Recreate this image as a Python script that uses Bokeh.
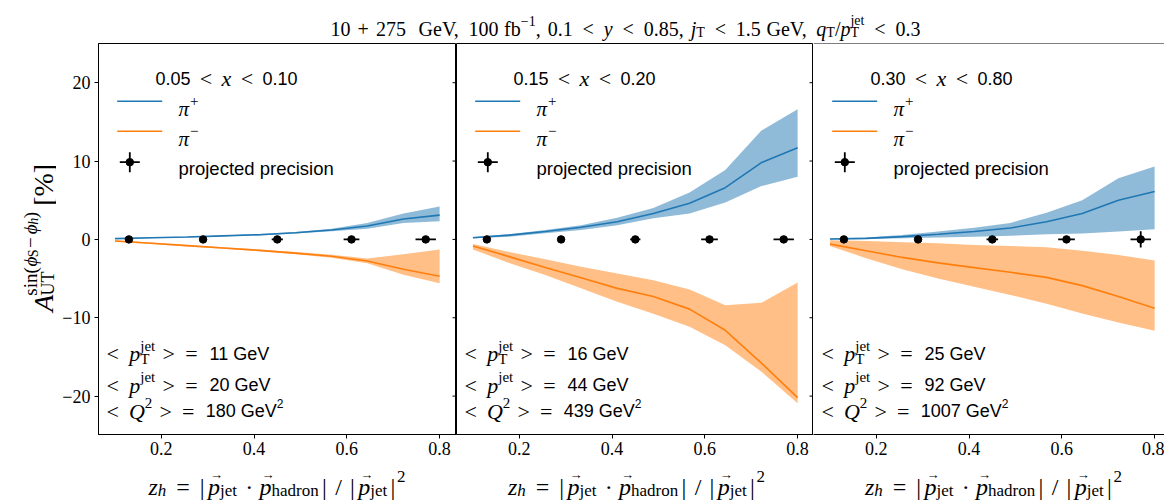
import math
from bokeh.plotting import figure
from bokeh.models import ColumnDataSource, Range1d, FixedTicker, Span
from bokeh.layouts import row, column
from bokeh.embed import file_html
from bokeh.resources import INLINE

# ---------------------------------------------------------------- data
z_theory = [0.1, 0.178, 0.256, 0.333, 0.411, 0.489, 0.567, 0.644, 0.722, 0.8]
z_points = [0.13, 0.29, 0.45, 0.61, 0.77]
y_points = [0.0, 0.0, 0.0, 0.0, 0.0]

bin_lo = ["0.05", "0.15", "0.30"]
bin_hi = ["0.10", "0.20", "0.80"]
mean_pt_jet = ["11", "16", "25"]
mean_p_jet = ["20", "44", "92"]
mean_q2 = ["180", "439", "1007"]

# panel 1 : 0.05 < x < 0.10
pip1_c = [0.1, 0.2, 0.3, 0.45, 0.6, 0.85, 1.2, 1.7, 2.6, 3.1]
pip1_lo = [0.05, 0.15, 0.25, 0.4, 0.5, 0.75, 1.05, 1.35, 2.1, 2.3]
pip1_hi = [0.15, 0.25, 0.35, 0.5, 0.7, 0.95, 1.35, 2.1, 3.3, 4.2]
pim1_c = [-0.2, -0.5, -0.8, -1.1, -1.4, -1.75, -2.15, -2.75, -3.8, -4.7]
pim1_hi = [-0.1, -0.4, -0.7, -1.0, -1.3, -1.6, -1.95, -2.45, -1.9, -1.3]
pim1_lo = [-0.3, -0.6, -0.9, -1.2, -1.5, -1.9, -2.35, -3.05, -4.5, -5.6]
ex1 = [0.004, 0.007, 0.012, 0.017, 0.022]
ey1 = [0.05, 0.08, 0.15, 0.25, 0.35]

# panel 2 : 0.15 < x < 0.20
pip2_c = [0.2, 0.55, 1.0, 1.55, 2.25, 3.3, 4.6, 6.6, 9.8, 11.7]
pip2_lo = [0.13, 0.35, 0.77, 1.2, 1.8, 2.7, 3.3, 4.7, 6.8, 8.0]
pip2_hi = [0.3, 0.65, 1.2, 1.8, 2.75, 4.0, 6.0, 8.85, 13.9, 16.6]
pim2_c = [-0.85, -2.2, -3.6, -4.9, -6.25, -7.3, -8.9, -11.6, -15.8, -20.2]
pim2_hi = [-0.6, -1.6, -2.55, -3.5, -4.35, -5.2, -6.4, -8.4, -8.1, -5.5]
pim2_lo = [-1.3, -3.0, -4.55, -6.25, -7.95, -9.5, -11.15, -13.5, -16.9, -20.9]
ex2 = [0.004, 0.007, 0.011, 0.018, 0.022]
ey2 = [0.05, 0.08, 0.15, 0.25, 0.4]

# panel 3 : 0.30 < x < 0.80
pip3_c = [0.05, 0.13, 0.35, 0.65, 1.0, 1.45, 2.25, 3.3, 5.0, 6.1]
pip3_lo = [0.0, 0.05, 0.13, 0.25, 0.35, 0.45, 0.65, 0.75, 1.0, 1.3]
pip3_hi = [0.1, 0.25, 0.55, 1.0, 1.5, 2.1, 3.4, 5.0, 7.8, 9.3]
pim3_c = [-0.6, -1.45, -2.3, -3.0, -3.6, -4.2, -4.85, -5.9, -7.3, -8.8]
pim3_hi = [-0.1, -0.2, -0.35, -0.5, -0.7, -0.85, -1.0, -1.45, -2.0, -2.7]
pim3_lo = [-0.85, -2.4, -3.8, -5.0, -6.05, -7.1, -8.2, -9.45, -10.6, -11.65]
ex3 = [0.004, 0.007, 0.0125, 0.018, 0.022]
ey3 = [0.1, 0.15, 0.25, 0.4, 1.05]

x_ticks = [0.2, 0.4, 0.6, 0.8]
y_ticks = [-20, -10, 0, 10, 20]

# ---------------------------------------------------------------- styles
BLUE = "#1f77b4"
ORANGE = "#ff7f0e"
SERIF = "Liberation Serif"
SANS = "Liberation Sans"

X0 = 0.0645
Y0, Y1 = -24.9, 25.0
FRAME_H = 391
SX = 463.8
SY = FRAME_H / (Y1 - Y0)

SERIF_R = {' ': 250, '!': 333, '(': 333, ')': 333, '+': 564, ',': 250, '-': 333, '.': 250,
           '/': 278, '<': 564, '=': 564, '>': 564, '[': 333, ']': 333, '|': 200, '%': 833,
           'A': 722, 'G': 722, 'Q': 722, 'S': 556, 'T': 611, 'U': 722, 'V': 722, 'a': 444,
           'b': 500, 'd': 500, 'e': 444, 'f': 333, 'h': 500, 'i': 278, 'j': 278, 'n': 500,
           'o': 500, 'p': 500, 'q': 500, 'r': 333, 's': 389, 't': 278, 'u': 500, 'x': 500,
           'y': 500, 'z': 444, '\u2212': 564, '\u00b7': 250, '\u2192': 1000, '\u03d5': 600,
           '\u03c0': 550}
for d in "0123456789":
    SERIF_R[d] = 500
SERIF_I = dict(SERIF_R)
SERIF_I.update({'A': 611, 'Q': 722, 'x': 444, 'y': 444, 'z': 389})
SANS_R = {' ': 278, '.': 278, 'G': 778, 'V': 667, 'e': 556, 'p': 556, 'r': 333, 'o': 556,
          'j': 222, 'c': 500, 't': 278, 'd': 556, 'i': 222, 's': 500, 'n': 556}
for d in "0123456789":
    SANS_R[d] = 556


def F(t, size, font=SERIF, style="normal", dy=0.0, adv=None, dx=0.0):
    return dict(t=t, s=size, f=font, st=style, dy=dy, adv=adv, dx=dx, gap=False)


def G(px):
    return dict(t="", s=1, f=SERIF, st="normal", dy=0.0, adv=px, dx=0.0, gap=True)


def fwidth(fr):
    if fr["f"] == SANS:
        tab = SANS_R
    elif fr["st"] == "italic":
        tab = SERIF_I
    else:
        tab = SERIF_R
    return sum(tab.get(c, 500) for c in fr["t"]) / 1000.0 * fr["s"]


def adv_of(fr):
    return fwidth(fr) if fr["adv"] is None else fr["adv"]


def gap_factor(frags, target):
    total = sum(adv_of(fr) for fr in frags)
    gaps = sum(fr["adv"] for fr in frags if fr["gap"])
    return max(0.3, 1.0 + (target - total) / gaps)


def place(frags, g=1.0):
    out, pos = [], 0.0
    for fr in frags:
        if fr["gap"]:
            pos += fr["adv"] * g
            continue
        out.append((pos + fr["dx"], fr))
        pos += adv_of(fr)
    return out, pos


def emit(p, items, align="left"):
    src = ColumnDataSource(dict(
        x=[i[0] for i in items], y=[i[1] for i in items], text=[i[2] for i in items],
        font=[i[3] for i in items], style=[i[4] for i in items], size=[i[5] for i in items],
        angle=[i[6] for i in items]))
    p.text(x="x", y="y", text="text", text_font="font", text_font_style="style",
           text_font_size="size", angle="angle", text_align=align,
           text_baseline="alphabetic", text_color="black", source=src)


def panel_text(p, rx, ry, frags, g=1.0):
    placed, _ = place(frags, g)
    items = []
    for off, fr in placed:
        items.append((X0 + (rx + off) / SX, Y1 - (ry - fr["dy"]) / SY, fr["t"], fr["f"],
                      fr["st"], "%.1fpx" % fr["s"], 0.0))
    emit(p, items)


def blank_fig(w, h):
    f = figure(width=w, height=h, x_range=Range1d(0, w), y_range=Range1d(0, h),
               output_backend="svg", toolbar_location=None, min_border=0,
               x_axis_location=None, y_axis_location=None)
    f.outline_line_color = None
    f.grid.visible = False
    f.background_fill_color = "white"
    f.border_fill_color = "white"
    return f


# ---------------------------------------------------------------- title
TITLE_H = 42
title_fig = blank_fig(1164, TITLE_H)
TS, TSS = 20, 14
rel = lambda: [G(7), F("<", TS), G(7)]
tf = ([F("10", TS), G(5), F("+", TS), G(5), F("275", TS), G(9), F("GeV,", TS), G(5),
       F("100", TS), G(4), F("fb", TS), F("\u22121", TSS, dy=8), F(",", TS), G(5),
       F("0.1", TS)] + rel() + [F("y", TS, style="italic")] + rel() +
      [F("0.85,", TS), G(5), F("j", TS, style="italic"), F("T", TSS, dy=-4)] + rel() +
      [F("1.5", TS), G(4), F("GeV,", TS), G(5), F("q", TS, style="italic"),
       F("T", TSS, dy=-4), F("/", TS), F("p", TS, style="italic"),
       F("T", TSS, dy=-4, adv=0), F("jet", TSS, dy=8)] + rel() + [F("0.3", TS)])
placed, _ = place(tf, gap_factor(tf, 590.0))
emit(title_fig, [(330 + off, (TITLE_H - 28) + fr["dy"], fr["t"], fr["f"], fr["st"],
                  "%.1fpx" % fr["s"], 0.0) for off, fr in placed])

# ---------------------------------------------------------------- y label (rotated)
ROW_H = 1 + FRAME_H + 30
YLAB_W = 56
ylab_fig = blank_fig(YLAB_W, ROW_H)
yf = [F("A", 28, style="italic"), G(1), F("UT", 18, dy=-4, adv=0), F("sin(", 19, dy=13),
      F("\u03d5", 19, style="italic", dy=13), F("S", 14, dy=10), G(2.5), F("\u2212", 19, dy=13),
      G(2.5), F("\u03d5", 19, style="italic", dy=13), F("h", 14, style="italic", dy=10),
      F(")", 19, dy=13), G(10), F("[%]", 28)]
placed, L = place(yf)
start_abs = 251 + L / 2.0
start_up = ROW_H - (start_abs - TITLE_H)
# anchored at the end of every piece (text_align right), so the run reads bottom to top
emit(ylab_fig, [(43 - fr["dy"], start_up + off + fwidth(fr), fr["t"], fr["f"], fr["st"],
                 "%.1fpx" % fr["s"], math.pi / 2) for off, fr in placed], align="right")

# ---------------------------------------------------------------- panels
panel_data = [
    (pip1_c, pip1_lo, pip1_hi, pim1_c, pim1_lo, pim1_hi, ex1, ey1),
    (pip2_c, pip2_lo, pip2_hi, pim2_c, pim2_lo, pim2_hi, ex2, ey2),
    (pip3_c, pip3_lo, pip3_hi, pim3_c, pim3_lo, pim3_hi, ex3, ey3),
]
frame_widths = [358, 357, 351]
MS, SS = 22, 15


def line1(i):
    return [F("<", MS), G(7), F("p", MS, style="italic"), F("T", SS, dy=-5, adv=0),
            F("jet", SS, dy=8), G(5), F(">", MS), G(7), F("=", MS), G(8),
            F(mean_pt_jet[i] + " GeV", 18, font=SANS)]


def line2(i):
    return [F("<", MS), G(7), F("p", MS, style="italic"), F("jet", SS, dy=8), G(5),
            F(">", MS), G(7), F("=", MS), G(8), F(mean_p_jet[i] + " GeV", 18, font=SANS)]


def line3(i):
    return [F("<", MS), G(7), F("Q", MS, style="italic"), F("2", SS, dy=8), G(5),
            F(">", MS), G(7), F("=", MS), G(8), F(mean_q2[i] + " GeV", 18, font=SANS),
            F("2", 12, font=SANS, dy=8)]


def head(i):
    return [F(bin_lo[i], 18, font=SANS), G(8), F("<", MS), G(8), F("x", MS, style="italic"),
            G(8), F("<", MS), G(8), F(bin_hi[i], 18, font=SANS)]


g_head = gap_factor(head(0), 142.0)
g_l1 = gap_factor(line1(0), 164.0)
g_l2 = gap_factor(line2(0), 164.0)
g_l3 = gap_factor(line3(0), 177.0)

panels = []
for i, (pc, plo, phi, mc, mlo, mhi, ex, ey) in enumerate(panel_data):
    fw = frame_widths[i]
    xend = X0 + fw / SX
    p = figure(frame_width=fw, frame_height=FRAME_H, x_range=Range1d(X0, xend),
               y_range=Range1d(Y0, Y1), output_backend="svg", toolbar_location=None,
               min_border=0, min_border_left=(98 - YLAB_W) if i == 0 else 0,
               min_border_right=0, min_border_top=1, min_border_bottom=30,
               y_axis_location="left" if i == 0 else None)
    p.grid.visible = False
    p.background_fill_color = "white"
    p.border_fill_color = "white"
    if i < 2:
        p.outline_line_color = "black"
        p.outline_line_width = 1
    else:
        p.outline_line_color = None
        p.add_layout(Span(location=Y1, dimension="width", line_color="black", line_width=1))

    ax = p.xaxis[0]
    ax.ticker = FixedTicker(ticks=x_ticks)
    ax.major_tick_out = 4
    ax.major_tick_in = 0
    ax.minor_tick_line_color = None
    ax.axis_line_color = "black"
    ax.major_tick_line_color = "black"
    ax.major_label_text_font = SERIF
    ax.major_label_text_font_size = "18px"
    ax.major_label_text_color = "black"
    ax.major_label_standoff = 3
    if i == 0:
        ay = p.yaxis[0]
        ay.ticker = FixedTicker(ticks=y_ticks)
        ay.major_label_overrides = {-20: "\u221220", -10: "\u221210", 0: "0", 10: "10", 20: "20"}
        ay.major_tick_out = 4
        ay.major_tick_in = 0
        ay.minor_tick_line_color = None
        ay.axis_line_color = "black"
        ay.major_label_text_font = SERIF
        ay.major_label_text_font_size = "18px"
        ay.major_label_text_color = "black"
        ay.major_label_standoff = 4
    if i < 2:
        # ticks of the neighbouring panel's left axis, reaching into this one
        p.segment(x0=[xend - 4.0 / SX] * len(y_ticks), x1=[xend] * len(y_ticks),
                  y0=y_ticks, y1=y_ticks, line_color="black", line_width=1)

    # bands and curves
    p.varea(x=z_theory, y1=plo, y2=phi, fill_color=BLUE, fill_alpha=0.5)
    p.varea(x=z_theory, y1=mlo, y2=mhi, fill_color=ORANGE, fill_alpha=0.5)
    p.line(z_theory, pc, line_color=BLUE, line_width=1.6)
    p.line(z_theory, mc, line_color=ORANGE, line_width=1.6)

    # projected precision
    p.segment(x0=[z - e for z, e in zip(z_points, ex)], x1=[z + e for z, e in zip(z_points, ex)],
              y0=y_points, y1=y_points, line_color="black", line_width=1.8)
    p.segment(x0=z_points, x1=z_points, y0=[y - e for y, e in zip(y_points, ey)],
              y1=[y + e for y, e in zip(y_points, ey)], line_color="black", line_width=1.8)
    p.scatter(z_points, y_points, size=7.5, color="black")

    # legend (drawn by hand)
    lx = lambda r: X0 + r / SX
    ly = lambda r: Y1 - r / SY
    p.line([lx(18.7), lx(63.7)], [ly(57.7), ly(57.7)], line_color=BLUE, line_width=1.6)
    p.line([lx(18.7), lx(63.7)], [ly(87.7), ly(87.7)], line_color=ORANGE, line_width=1.6)
    p.segment(x0=[lx(21.3)], x1=[lx(41.3)], y0=[ly(118.7)], y1=[ly(118.7)],
              line_color="black", line_width=1.8)
    p.segment(x0=[lx(31.3)], x1=[lx(31.3)], y0=[ly(108.7)], y1=[ly(128.7)],
              line_color="black", line_width=1.8)
    p.scatter([lx(31.3)], [ly(118.7)], size=7.5, color="black")
    panel_text(p, 80, 65.3, [F("\u03c0", 21, style="italic"), F("+", 15, dy=8)])
    panel_text(p, 80, 95.3, [F("\u03c0", 21, style="italic"), F("\u2212", 15, dy=8)])
    panel_text(p, 80, 124.7, [F("projected precision", 18.5, font=SANS)])

    panel_text(p, 57, 35.3, head(i), g_head)
    panel_text(p, 8, 310.3, line1(i), g_l1)
    panel_text(p, 8, 341.5, line2(i), g_l2)
    panel_text(p, 8, 367.5, line3(i), g_l3)
    panels.append(p)

# ---------------------------------------------------------------- x labels
XLAB_H = 502 - TITLE_H - ROW_H
xlab_fig = blank_fig(1164, XLAB_H)
XM, XS = 24, 17


def xlabel_frags():
    arrow = lambda: F("\u2192", 13, dy=12, adv=0, dx=2)
    return [F("z", XM, style="italic"), F("h", XS, style="italic", dy=-4), G(6), F("=", XM),
            G(6), F("|", XM), G(2), arrow(), F("p", XM, style="italic"), F("jet", XS, dy=-4),
            G(5), F("\u00b7", XM), G(5), arrow(), F("p", XM, style="italic"),
            F("hadron", XS, dy=-4), G(2), F("|", XM), G(5), F("/", XM), G(5), F("|", XM),
            G(2), arrow(), F("p", XM, style="italic"), F("jet", XS, dy=-4), G(2), F("|", XM),
            G(1), F("2", XS, dy=10)]


xl = xlabel_frags()
placed, _ = place(xl, gap_factor(xl, 257.0))
items = []
for cx in [276.5, 636.0, 993.0]:
    for off, fr in placed:
        items.append((cx - 128.5 + off, (502 - 486) + fr["dy"], fr["t"], fr["f"], fr["st"],
                      "%.1fpx" % fr["s"], 0.0))
emit(xlab_fig, items)

layout = column(title_fig, row(ylab_fig, *panels, spacing=0), xlab_fig, spacing=0)
open("out.html", "w").write(file_html(layout, INLINE))
